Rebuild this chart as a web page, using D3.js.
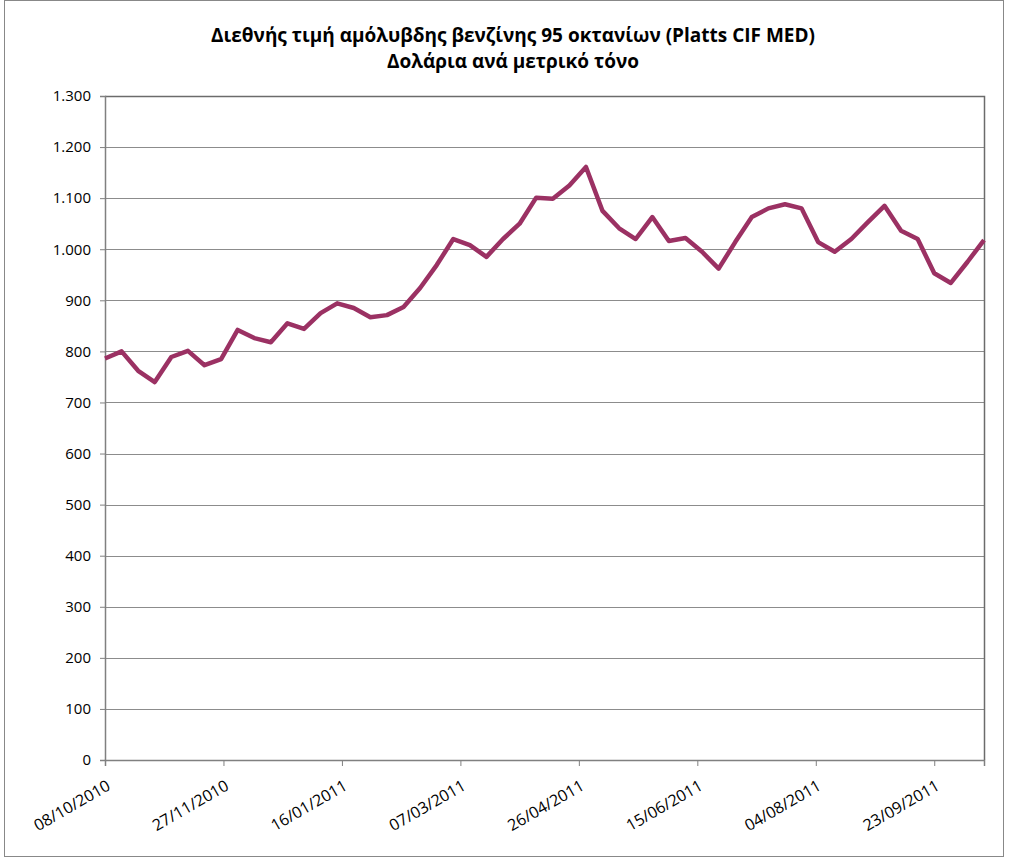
<!DOCTYPE html>
<html>
<head>
<meta charset="utf-8">
<script src="https://cdn.jsdelivr.net/npm/d3@7"></script>
<style>
  body { margin: 0; background: #fff; }
  text { font-family: "Open Sans", "Noto Sans", sans-serif; fill: #000; }
</style>
</head>
<body>
<div id="chart"></div>
<script>
// weekly observations
const dates = [
  "08/10/2010", "15/10/2010", "22/10/2010", "29/10/2010", "05/11/2010", "12/11/2010",
  "19/11/2010", "26/11/2010", "03/12/2010", "10/12/2010", "17/12/2010", "24/12/2010",
  "31/12/2010", "07/01/2011", "14/01/2011", "21/01/2011", "28/01/2011", "04/02/2011",
  "11/02/2011", "18/02/2011", "25/02/2011", "04/03/2011", "11/03/2011", "18/03/2011",
  "25/03/2011", "01/04/2011", "08/04/2011", "15/04/2011", "22/04/2011", "29/04/2011",
  "06/05/2011", "13/05/2011", "20/05/2011", "27/05/2011", "03/06/2011", "10/06/2011",
  "17/06/2011", "24/06/2011", "01/07/2011", "08/07/2011", "15/07/2011", "22/07/2011",
  "29/07/2011", "05/08/2011", "12/08/2011", "19/08/2011", "26/08/2011", "02/09/2011",
  "09/09/2011", "16/09/2011", "23/09/2011", "30/09/2011", "07/10/2011", "14/10/2011"
];

const prices = [
  786, 800, 762, 740, 789, 801, 773, 785, 842, 826, 818, 855,
  844, 875, 894, 885, 867, 871, 887, 924, 969, 1020, 1008, 985,
  1020, 1050, 1101, 1099, 1125, 1161, 1075, 1041, 1020, 1063, 1016, 1022,
  995, 962, 1014, 1063, 1080, 1088, 1080, 1014, 995, 1020, 1053, 1085,
  1036, 1020, 953, 934, 975, 1018
];

const xTicks = ["08/10/2010", "27/11/2010", "16/01/2011", "07/03/2011",
  "26/04/2011", "15/06/2011", "04/08/2011", "23/09/2011"];

const yTicks = [0, 100, 200, 300, 400, 500, 600, 700, 800, 900, 1000, 1100, 1200, 1300];

const titleLines = [
  "Διεθνής τιμή αμόλυβδης βενζίνης 95 οκτανίων (Platts CIF MED)",
  "Δολάρια ανά μετρικό τόνο"
];

const width = 1009, height = 861;
const margin = {top: 96, right: 25, bottom: 101, left: 105};

const parse = d3.timeParse("%d/%m/%Y");
const data = dates.map((d, i) => ({date: parse(d), value: prices[i]}));

const locale = d3.formatLocale({decimal: ",", thousands: ".", grouping: [3], currency: ["", "€"]});
const fmt = locale.format(",d");

const svg = d3.select("#chart")
    .append("svg")
    .attr("width", width)
    .attr("height", height);

svg.append("rect")
    .attr("x", 4.5).attr("y", 0.5)
    .attr("width", 999).attr("height", 856)
    .attr("fill", "none")
    .attr("stroke", "#888")
    .attr("stroke-width", 1);

const x = d3.scaleTime()
    .domain([parse(dates[0]), parse(dates[dates.length - 1])])
    .range([margin.left, width - margin.right]);

const y = d3.scaleLinear()
    .domain([0, 1300])
    .range([height - margin.bottom, margin.top]);

// gridlines
svg.append("g")
    .selectAll("line")
    .data(yTicks.slice(1))
    .enter().append("line")
    .attr("x1", margin.left)
    .attr("x2", width - margin.right)
    .attr("y1", d => Math.round(y(d)) + 0.5)
    .attr("y2", d => Math.round(y(d)) + 0.5)
    .attr("stroke", "#8c8c8c")
    .attr("stroke-width", 1);

// plot frame top/right
svg.append("path")
    .attr("d", `M${margin.left},${Math.round(y(1300)) + 0.5}H${width - margin.right + 0.5}V${Math.round(y(0))}`)
    .attr("fill", "none")
    .attr("stroke", "#6b6b6b")
    .attr("stroke-width", 1.5);

const yAxis = svg.append("g")
    .attr("transform", `translate(${margin.left},0)`)
    .call(d3.axisLeft(y).tickValues(yTicks).tickFormat(fmt).tickSize(5).tickPadding(9));

const xAxis = svg.append("g")
    .attr("transform", `translate(0,${height - margin.bottom})`)
    .call(d3.axisBottom(x).tickValues(xTicks.map(parse)).tickFormat(d3.timeFormat("%d/%m/%Y")).tickSize(6));

[yAxis, xAxis].forEach(a => {
    a.select(".domain").attr("stroke", "#808080").attr("stroke-width", 1.5);
    a.selectAll(".tick line").attr("stroke", "#808080");
    a.selectAll("text").style("font-size", "15px").attr("fill", "#000");
});

xAxis.selectAll("text")
    .attr("text-anchor", "end")
    .attr("dy", null)
    .attr("y", 0)
    .attr("transform", "translate(6,29) rotate(-30)")
    .style("font-size", "16px");

// price line
svg.append("path")
    .datum(data)
    .attr("fill", "none")
    .attr("stroke", "#9b3163")
    .attr("stroke-width", 4.5)
    .attr("stroke-linejoin", "round")
    .attr("d", d3.line().x(d => x(d.date)).y(d => y(d.value)));

svg.append("g")
    .selectAll("text")
    .data(titleLines)
    .enter().append("text")
    .attr("x", 513)
    .attr("y", (d, i) => 42 + i * 26)
    .attr("text-anchor", "middle")
    .style("font-size", "19px")
    .style("font-weight", "bold")
    .text(d => d);
</script>
</body>
</html>
